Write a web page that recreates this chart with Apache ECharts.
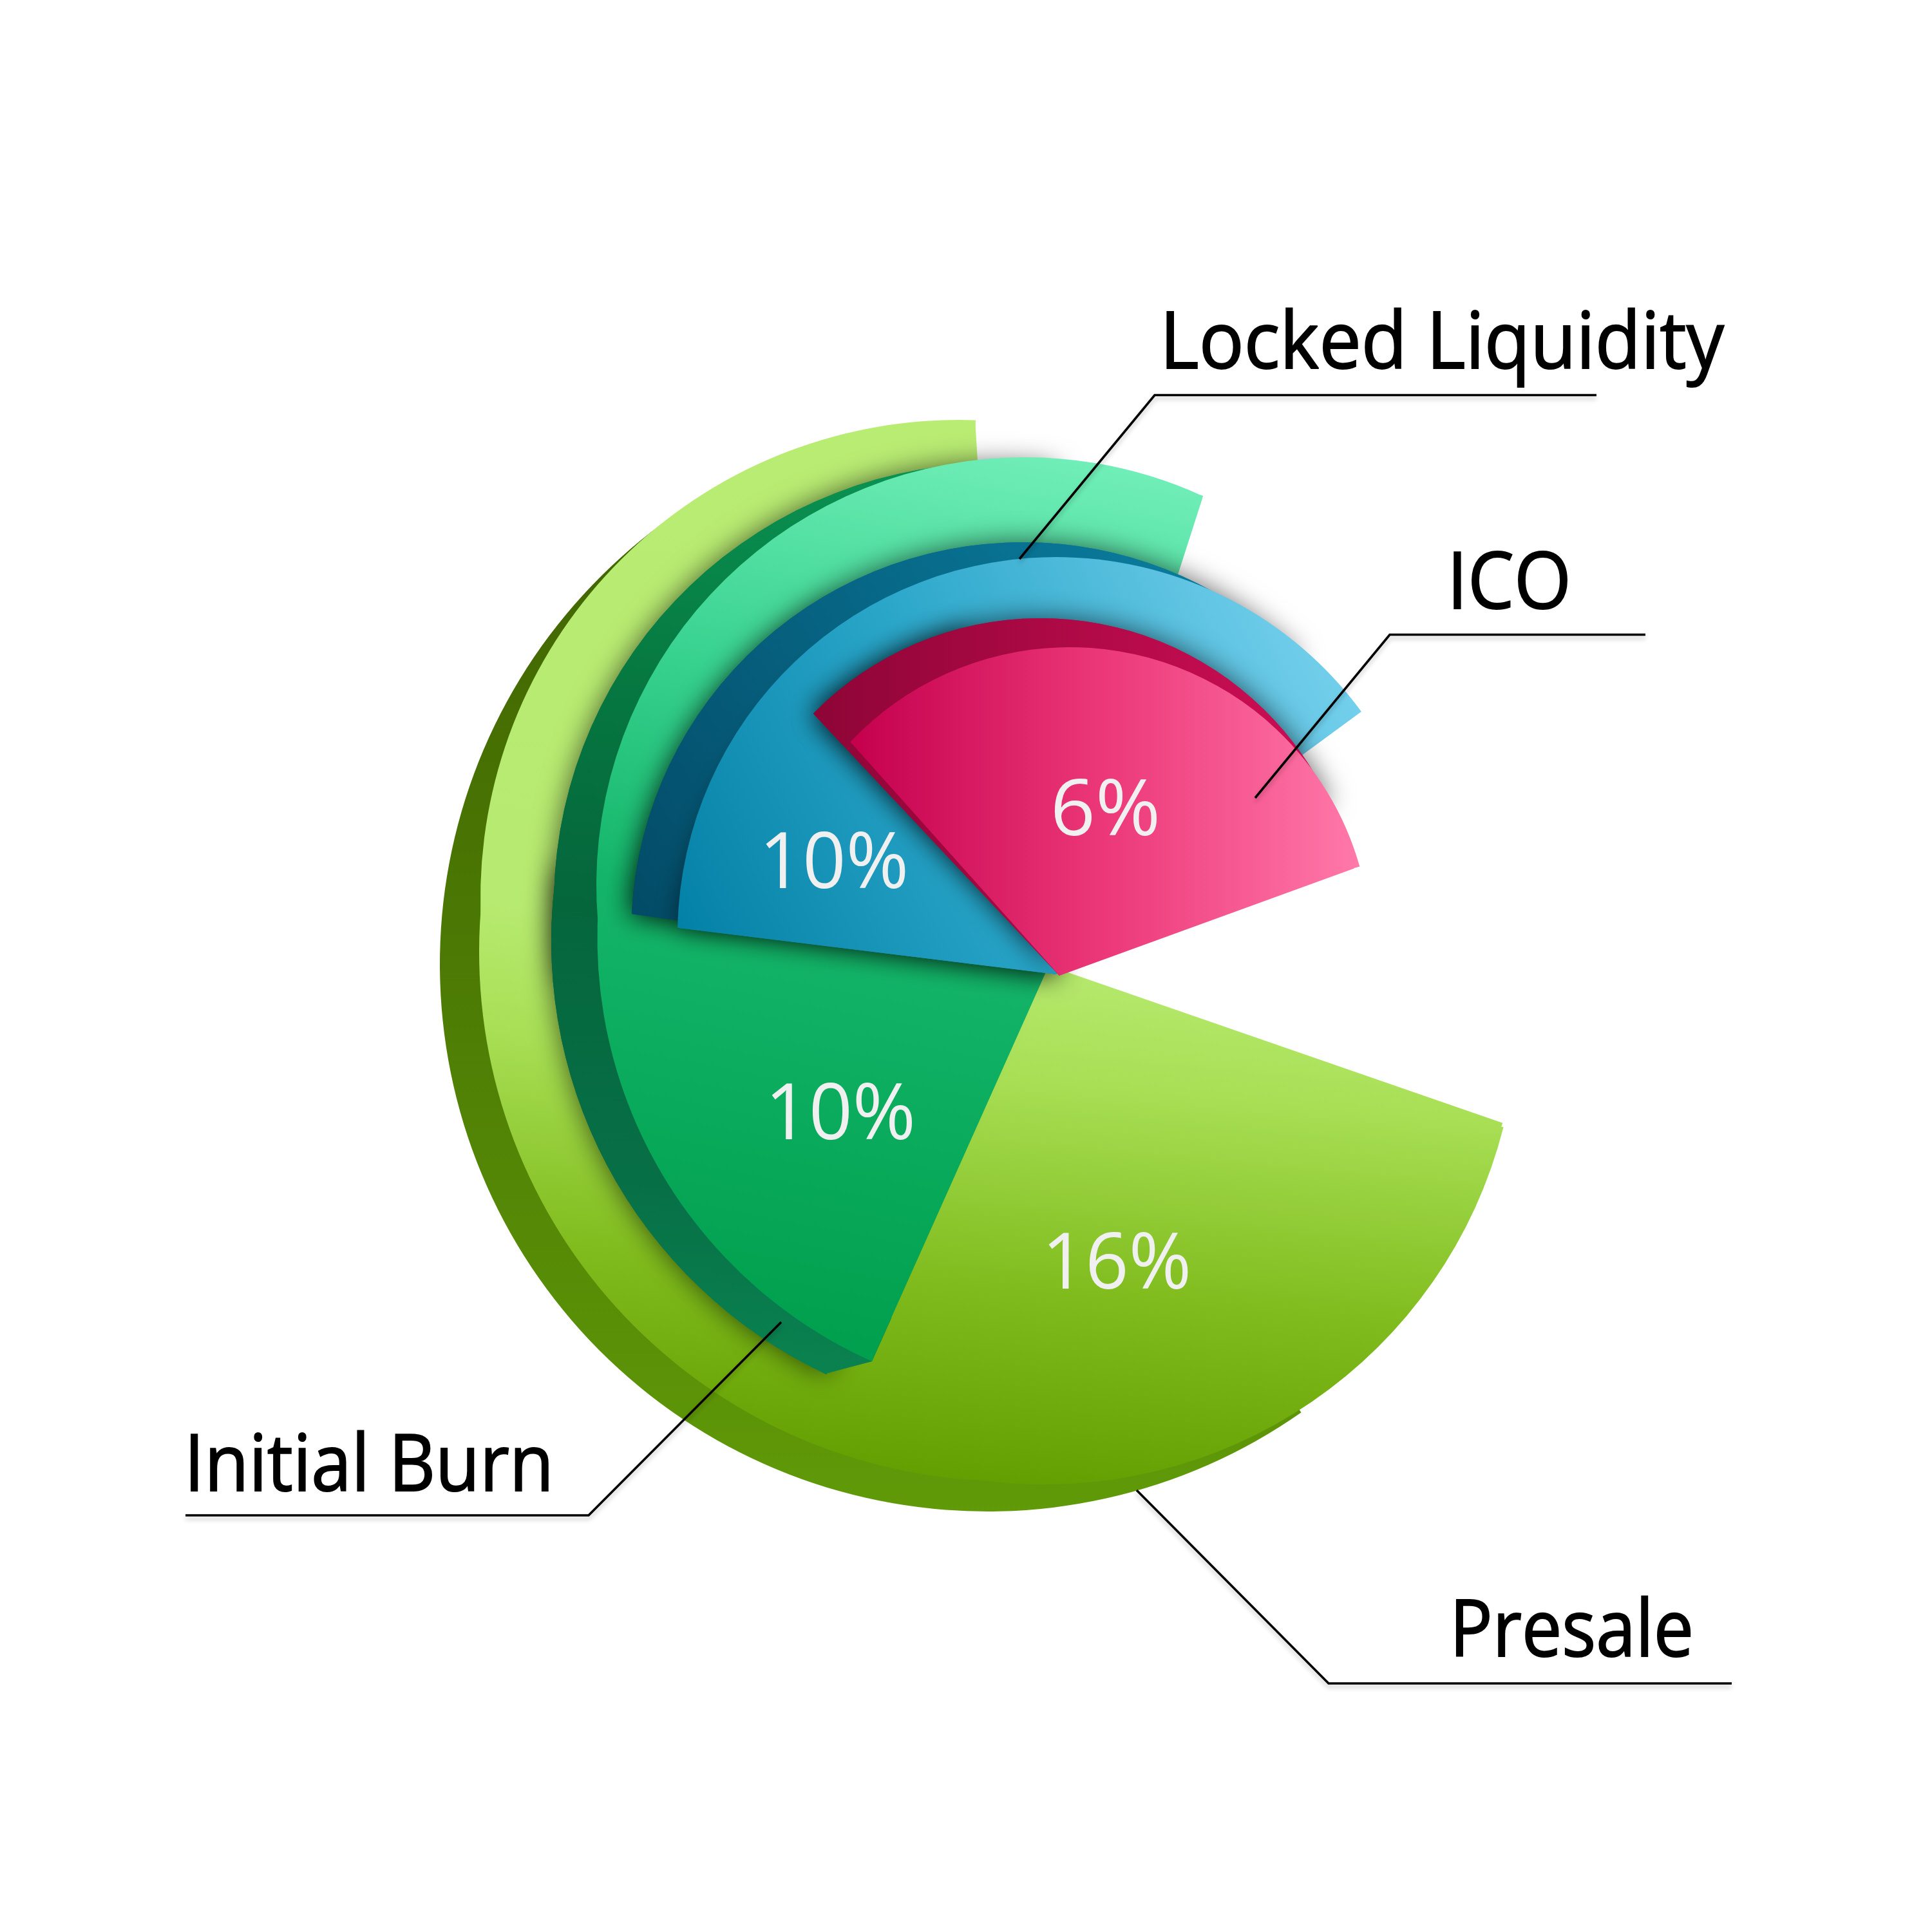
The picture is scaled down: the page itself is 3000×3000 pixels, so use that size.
<!DOCTYPE html>
<html><head><meta charset="utf-8">
<style>html,body{margin:0;padding:0;background:#fff}#c{width:3000px;height:3000px}</style>
<script src="https://cdn.jsdelivr.net/npm/echarts@6/dist/echarts.min.js"></script>
</head><body><div id="c"></div>
<script>
const categories = ['Presale', 'Initial Burn', 'Locked Liquidity', 'ICO'];
const values = [16, 10, 10, 6];

const FONT = '"Open Sans"';
function grad(x, y, x2, y2, stops) {
  return { type: 'linear', x, y, x2, y2, global: true,
    colorStops: stops.map(s => ({ offset: s[0], color: s[1] })) };
}
const colors = {
  presaleBack: grad(0, 650, 0, 2350, [[0, '#3f6000'], [0.5, '#4c7a04'], [1, '#609a08']]),
  presale: grad(1650, 650, 1500, 2300, [[0, '#b9ec73'], [0.5, '#b7ea70'], [0.62, '#a8df55'], [0.82, '#7fbb1c'], [1, '#639f00']]),
  burnBack: grad(1400, 730, 1300, 2140, [[0, '#0a9252'], [0.25, '#067840'], [0.5, '#05663c'], [0.8, '#076f46'], [1, '#0a8350']]),
  burn: grad(1720, 710, 1450, 2110, [[0, '#72efb9'], [0.3, '#38d28f'], [0.55, '#14b56a'], [1, '#00a04e']]),
  liqBack: grad(1000, 1420, 1800, 860, [[0, '#034c68'], [1, '#0a7a9b']]),
  liq: grad(1080, 1520, 2110, 1010, [[0, '#0380a5'], [0.45, '#2aa6c9'], [1, '#78d2ee']]),
  icoBack: grad(1263, 0, 1950, 0, [[0, '#8e0536'], [1, '#c60d52']]),
  ico: grad(1320, 0, 2112, 0, [[0, '#c4004d'], [0.5, '#ec3878'], [1, '#ff79a9']])
};
const SHADOW = { shadowBlur: 42, shadowColor: 'rgba(0,0,0,0.6)' };

// idx: which slice of values/categories; parts: sector geometry (centre, radius, start, end), drawn bottom to top
const wedges = [
  { idx: 0, color: colors.presaleBack, parts: [{ c: [1533, 1497], r: 850, a: [305, 126.5] }] },
  { idx: 0, color: colors.presale, parts: [
    { c: [1566, 1478], r: 812, a: [-19.1, -60] },
    { c: [1566, 1478], r: 822, a: [-55, -266.4] },
    { c: [1489, 1395], r: 743, a: [184, 88] },
    { c: [1622, 1570], r: 735, a: [-14.2, -97] }] },
  { idx: 1, color: colors.burnBack, parts: [
    { c: [1600, 1461], r: 744, a: [244.8, 171], shadow: true },
    { c: [1546, 1405], r: 686, a: [190, 82], shadow: true },
    { c: [1354, 2114], r: 74.5, a: [194.8, 65.9] }] },
  { idx: 1, color: colors.burn, parts: [
    { c: [1648, 1456], r: 720.5, a: [245.9, 72.2] },
    { c: [1591, 1375], r: 665, a: [185, 65.5] }] },
  { idx: 2, color: colors.liqBack, parts: [
    { c: [1588, 1450], r: 608, a: [177, 45], shadow: true },
    { c: [1641, 1513], r: 666, a: [171.9, 120], shadow: true }] },
  { idx: 2, color: colors.liq, parts: [
    { c: [1641, 1513], r: 593, a: [173, 100], shadow: true },
    { c: [1640, 1453], r: 588, a: [178.6, 36.3] }] },
  { idx: 3, color: colors.icoBack, parts: [
    { c: [1616, 1455], r: 495, a: [135.5, 25], shadow: true },
    { c: [1645, 1515], r: 556, a: [133.2, 105], shadow: true }] },
  { idx: 3, color: colors.ico, parts: [
    { c: [1661, 1473], r: 468, a: [136.7, 15.8] },
    { c: [1645, 1515], r: 487, a: [131.8, 20] }] }
];

function pie(w, p, withShadow) {
  return {
    type: 'pie', silent: true, animation: false,
    center: p.c, radius: [0, p.r], startAngle: p.a[0], endAngle: p.a[1],
    clockwise: true, label: { show: false }, labelLine: { show: false },
    itemStyle: Object.assign({ color: w.color, borderWidth: 0 }, withShadow ? SHADOW : {}),
    data: [{ name: categories[w.idx], value: values[w.idx] }]
  };
}
const series = [];
wedges.forEach(w => {
  w.parts.filter(p => p.shadow).forEach(p => series.push(pie(w, p, true)));
  w.parts.forEach(p => series.push(pie(w, p, false)));
});

const meas = document.createElement('canvas').getContext('2d');
function text(str, x, w, base, size, weight, fill, shadow, bold) {
  meas.font = weight + ' ' + size + 'px ' + FONT;
  const sx = w / meas.measureText(str).width;
  return { type: 'text', z: 100, x, y: base - 0.388 * size + 15, scaleX: sx, silent: true,
    style: Object.assign({ text: str, fill, font: weight + ' ' + size + 'px ' + FONT,
      textAlign: 'left', verticalAlign: 'middle', stroke: fill, lineWidth: bold },
      shadow ? { shadowBlur: 10, shadowOffsetY: 7, shadowOffsetX: 2, shadowColor: 'rgba(0,0,0,0.3)' } : {}) };
}
function leader(points) {
  return { type: 'polyline', z: 99, silent: true, shape: { points },
    style: { stroke: '#000', lineWidth: 3.6, fill: null, shadowBlur: 7, shadowOffsetY: 5, shadowColor: 'rgba(0,0,0,0.22)' } };
}
const labelBox = { // left, width, baseline of each category name
  'Locked Liquidity': [1801, 876, 570], 'ICO': [2247, 193, 943],
  'Initial Burn': [286, 574, 2313], 'Presale': [2251, 379, 2570]
};
const percentBox = [[1618, 232, 1998], [1188, 234, 1766], [1179, 232, 1376], [1631, 171, 1294]];
const graphic = [
  leader([[1583, 868], [1793, 613.5], [2479, 613.5]]),
  leader([[1949, 1239], [2158, 985.5], [2555, 985.5]]),
  leader([[1213, 2053], [914, 2353], [288, 2353]]),
  leader([[1765, 2314], [2063, 2614], [2689, 2614]])
];
categories.forEach((name, i) => {
  const b = labelBox[name];
  graphic.push(text(name, b[0], b[1], b[2], 122, 400, '#000', true, 2));
  const q = percentBox[i];
  graphic.push(text(values[i] + '%', q[0], q[1], q[2], 120, 400, '#f0f0f0', false, 0));
});

const chart = echarts.init(document.getElementById('c'), null, { renderer: 'canvas', width: 3000, height: 3000 });
chart.setOption({ backgroundColor: '#fff', animation: false, series, graphic });
</script></body></html>
